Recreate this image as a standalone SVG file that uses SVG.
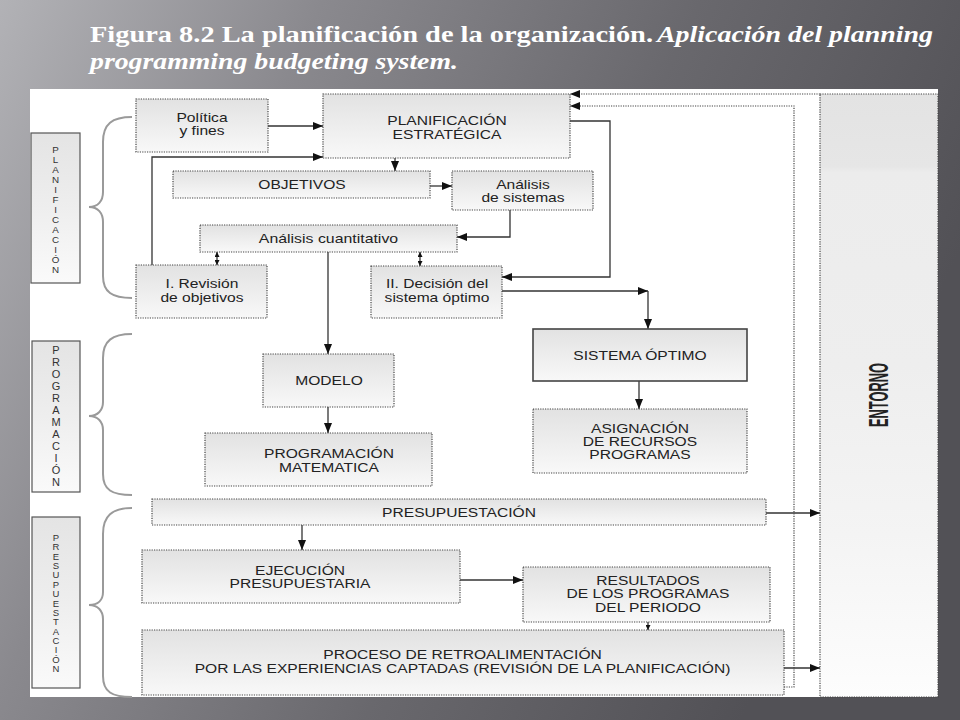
<svg xmlns="http://www.w3.org/2000/svg" width="960" height="720" viewBox="0 0 960 720">
  <defs>
    <linearGradient id="bg" x1="0" y1="0" x2="1" y2="0.35">
      <stop offset="0" stop-color="#b2b2b6"/>
      <stop offset="0.3" stop-color="#8a898e"/>
      <stop offset="0.65" stop-color="#69686d"/>
      <stop offset="1" stop-color="#525156"/>
    </linearGradient>
    <linearGradient id="boxg" x1="0" y1="0" x2="0" y2="1">
      <stop offset="0" stop-color="#e2e2e2"/>
      <stop offset="0.45" stop-color="#ececec"/>
      <stop offset="1" stop-color="#f8f8f8"/>
    </linearGradient>
    <linearGradient id="lblg" x1="0" y1="0" x2="0" y2="1">
      <stop offset="0" stop-color="#e4e4e4"/>
      <stop offset="0.5" stop-color="#eeeeee"/>
      <stop offset="1" stop-color="#fafafa"/>
    </linearGradient>
    <linearGradient id="entg" x1="0" y1="0" x2="0" y2="1">
      <stop offset="0" stop-color="#e3e3e3"/>
      <stop offset="0.12" stop-color="#e6e6e6"/>
      <stop offset="0.13" stop-color="#ececec"/>
      <stop offset="0.45" stop-color="#eeeeee"/>
      <stop offset="0.73" stop-color="#f4f4f4"/>
      <stop offset="1" stop-color="#fdfdfd"/>
    </linearGradient>
    <marker id="ah" viewBox="0 0 10 8" markerWidth="11" markerHeight="8" refX="10" refY="4" orient="auto" markerUnits="userSpaceOnUse">
      <path d="M0,0 L10,4 L0,8 Z" fill="#111"/>
    </marker>
    <marker id="sm" viewBox="0 0 6 6" markerWidth="5" markerHeight="5" refX="6" refY="3" orient="auto-start-reverse" markerUnits="userSpaceOnUse">
      <path d="M0,0 L6,3 L0,6 Z" fill="#111"/>
    </marker>
    <style>
      .box { fill: url(#boxg); stroke: #444; stroke-width: 1.2; stroke-dasharray: 1.2 1.2; }
      .sbox { fill: url(#boxg); stroke: #444; stroke-width: 1.6; }
      .lbl { fill: url(#lblg); stroke: #555; stroke-width: 1.2; }
      .t { font-family: "Liberation Sans", Arial, sans-serif; font-size: 13px; fill: #222; text-anchor: middle; }
      .v { font-family: "Liberation Sans", Arial, sans-serif; font-size: 9.8px; fill: #333; text-anchor: middle; }
      .brace { fill: none; stroke: #9a9a9a; stroke-width: 2; }
      .c { fill: none; stroke: #333; stroke-width: 1.3; }
      .d { fill: none; stroke: #444; stroke-width: 1.2; stroke-dasharray: 1.2 1.2; }
      .title { font-family: "Liberation Serif", "Times New Roman", serif; font-size: 24px; font-weight: bold; fill: #ffffff; }
    </style>
  </defs>

  <!-- background -->
  <rect x="0" y="0" width="960" height="720" fill="url(#bg)"/>
  <rect x="30" y="89" width="908" height="608" fill="#ffffff"/>

  <!-- title -->
  <g id="title">
    <text class="title" x="90" y="42" textLength="563" lengthAdjust="spacingAndGlyphs">Figura 8.2 La planificación de la organización.</text>
    <text class="title" x="657" y="42" font-style="italic" textLength="276" lengthAdjust="spacingAndGlyphs">Aplicación del planning</text>
    <text class="title" x="90" y="69" font-style="italic" textLength="368" lengthAdjust="spacingAndGlyphs">programming budgeting system.</text>
  </g>

  <!-- phase labels -->
  <g id="lbl-planificacion">
    <rect class="lbl" x="31" y="133" width="49" height="150"/>
    <text class="v"><tspan x="55.5" y="153">P</tspan><tspan x="55.5" y="163">L</tspan><tspan x="55.5" y="173">A</tspan><tspan x="55.5" y="183">N</tspan><tspan x="55.5" y="193">I</tspan><tspan x="55.5" y="203">F</tspan><tspan x="55.5" y="213">I</tspan><tspan x="55.5" y="223">C</tspan><tspan x="55.5" y="233">A</tspan><tspan x="55.5" y="243">C</tspan><tspan x="55.5" y="253">I</tspan><tspan x="55.5" y="263">Ó</tspan><tspan x="55.5" y="273">N</tspan></text>
    <path class="brace" d="M132,117 C112,117 103,124 103,142 L103,192 C103,201 98,207 89,207 C98,207 103,213 103,222 L103,276 C103,292 112,298 132,298"/>
  </g>
  <g id="lbl-programacion">
    <rect class="lbl" x="32" y="341" width="48" height="151"/>
    <text class="v" style="font-size:11px"><tspan x="56" y="354">P</tspan><tspan x="56" y="366">R</tspan><tspan x="56" y="378">O</tspan><tspan x="56" y="390">G</tspan><tspan x="56" y="402">R</tspan><tspan x="56" y="414">A</tspan><tspan x="56" y="426">M</tspan><tspan x="56" y="438">A</tspan><tspan x="56" y="450">C</tspan><tspan x="56" y="462">I</tspan><tspan x="56" y="474">Ó</tspan><tspan x="56" y="486">N</tspan></text>
    <path class="brace" d="M132,334 C112,334 103,341 103,358 L103,402 C103,410 98,416 89,416 C98,416 103,422 103,430 L103,474 C103,490 112,495 132,495"/>
  </g>
  <g id="lbl-presupuestacion">
    <rect class="lbl" x="32" y="517" width="48" height="171"/>
    <text class="v" style="font-size:9.5px"><tspan x="56" y="541">P</tspan><tspan x="56" y="550.4">R</tspan><tspan x="56" y="559.7">E</tspan><tspan x="56" y="569.1">S</tspan><tspan x="56" y="578.4">U</tspan><tspan x="56" y="587.8">P</tspan><tspan x="56" y="597.2">U</tspan><tspan x="56" y="606.5">E</tspan><tspan x="56" y="615.9">S</tspan><tspan x="56" y="625.2">T</tspan><tspan x="56" y="634.6">A</tspan><tspan x="56" y="644">C</tspan><tspan x="56" y="653.3">I</tspan><tspan x="56" y="662.7">Ó</tspan><tspan x="56" y="672">N</tspan></text>
    <path class="brace" d="M132,508 C112,508 103,516 103,534 L103,592 C103,600 98,605 89,605 C98,605 103,611 103,619 L103,676 C103,692 112,697 132,697"/>
  </g>

  <!-- ENTORNO -->
  <g id="entorno">
    <rect x="820" y="94" width="118" height="603" fill="url(#entg)" stroke="#444" stroke-width="1.2" stroke-dasharray="1.2 1.2"/>
    <text transform="translate(888,395) rotate(-90) scale(0.46,1)" font-family="Liberation Sans, Arial, sans-serif" font-size="28" font-weight="bold" fill="#222" text-anchor="middle">ENTORNO</text>
  </g>

  <!-- connectors -->
  <g id="connectors">
    <path class="c" d="M268,126 H323" marker-end="url(#ah)"/>
    <path class="c" d="M152,265 V157 H323" marker-end="url(#ah)"/>
    <path class="c" d="M395,158 V171" marker-end="url(#ah)"/>
    <path class="c" d="M430,186 H452" marker-end="url(#ah)"/>
    <path class="c" d="M510,210 V237 H457" marker-end="url(#ah)"/>
    <path class="c" d="M217,252 V265" marker-start="url(#sm)" marker-end="url(#sm)"/>
    <path class="c" d="M420,252 V266" marker-start="url(#sm)" marker-end="url(#sm)"/>
    <path class="c" d="M570,121 H610 V277 H502" marker-end="url(#ah)"/>
    <path class="c" d="M502,291 H648" marker-end="url(#ah)"/>
    <path class="c" d="M648,291 V329" marker-end="url(#ah)"/>
    <path class="c" d="M328,252 V354" marker-end="url(#ah)"/>
    <path class="c" d="M328,407 V433" marker-end="url(#ah)"/>
    <path class="c" d="M639,381 V409" marker-end="url(#ah)"/>
    <path class="c" d="M302,525 V550" marker-end="url(#ah)"/>
    <path class="c" d="M460,580 H523" marker-end="url(#ah)"/>
    <path class="c" d="M648,622 V630" marker-end="url(#sm)"/>
    <path class="c" d="M766,513 H820" marker-end="url(#ah)"/>
    <path class="c" d="M784,668 H820" marker-end="url(#ah)"/>
    <path class="d" d="M820,94 H570" marker-end="url(#ah)"/>
    <path class="d" d="M784,687 H794 V106 H570" marker-end="url(#ah)"/>
  </g>

  <!-- nodes -->
  <g id="politica">
    <rect class="box" x="136" y="99" width="132" height="53"/>
    <text class="t" transform="translate(202,122) scale(1.2,1)"><tspan x="0" y="0">Política</tspan><tspan x="0" y="13">y fines</tspan></text>
  </g>
  <g id="planificacion-estrategica">
    <rect class="box" x="323" y="94" width="247" height="64"/>
    <text class="t" transform="translate(447,125) scale(1.2,1)"><tspan x="0" y="0">PLANIFICACIÓN</tspan><tspan x="0" y="14">ESTRATÉGICA</tspan></text>
  </g>
  <g id="objetivos">
    <rect class="box" x="173" y="171" width="257" height="27"/>
    <text class="t" transform="translate(302,189) scale(1.2,1)">OBJETIVOS</text>
  </g>
  <g id="analisis-sistemas">
    <rect class="box" x="452" y="171" width="141" height="39"/>
    <text class="t" transform="translate(523,189) scale(1.2,1)"><tspan x="0" y="0">Análisis</tspan><tspan x="0" y="13">de sistemas</tspan></text>
  </g>
  <g id="analisis-cuantitativo">
    <rect class="box" x="200" y="225" width="257" height="27"/>
    <text class="t" transform="translate(328.5,243) scale(1.22,1)">Análisis cuantitativo</text>
  </g>
  <g id="revision-objetivos">
    <rect class="box" x="136" y="265" width="131" height="53"/>
    <text class="t" transform="translate(202,288) scale(1.2,1)"><tspan x="0" y="0">I. Revisión</tspan><tspan x="0" y="14">de objetivos</tspan></text>
  </g>
  <g id="decision-sistema">
    <rect class="box" x="371" y="266" width="131" height="52"/>
    <text class="t" transform="translate(437,288) scale(1.2,1)"><tspan x="0" y="0">II. Decisión del</tspan><tspan x="0" y="14">sistema óptimo</tspan></text>
  </g>
  <g id="modelo">
    <rect class="box" x="263" y="354" width="131" height="53"/>
    <text class="t" transform="translate(329,385) scale(1.2,1)">MODELO</text>
  </g>
  <g id="programacion-matematica">
    <rect class="box" x="205" y="433" width="227" height="53"/>
    <text class="t" transform="translate(329,458) scale(1.2,1)"><tspan x="0" y="0">PROGRAMACIÓN</tspan><tspan x="0" y="14">MATEMATICA</tspan></text>
  </g>
  <g id="sistema-optimo">
    <rect class="sbox" x="533" y="329" width="214" height="52"/>
    <text class="t" transform="translate(640,360) scale(1.2,1)">SISTEMA ÓPTIMO</text>
  </g>
  <g id="asignacion">
    <rect class="box" x="533" y="409" width="214" height="64"/>
    <text class="t" transform="translate(640,433) scale(1.2,1)"><tspan x="0" y="0">ASIGNACIÓN</tspan><tspan x="0" y="13.5">DE RECURSOS</tspan><tspan x="0" y="26.5">PROGRAMAS</tspan></text>
  </g>
  <g id="presupuestacion">
    <rect class="box" x="152" y="499" width="614" height="26"/>
    <text class="t" transform="translate(459,517) scale(1.2,1)">PRESUPUESTACIÓN</text>
  </g>
  <g id="ejecucion">
    <rect class="box" x="142" y="550" width="318" height="53"/>
    <text class="t" transform="translate(300,575) scale(1.2,1)"><tspan x="0" y="0">EJECUCIÓN</tspan><tspan x="0" y="13.5">PRESUPUESTARIA</tspan></text>
  </g>
  <g id="resultados">
    <rect class="box" x="523" y="567" width="247" height="55"/>
    <text class="t" transform="translate(648,585) scale(1.2,1)"><tspan x="0" y="0">RESULTADOS</tspan><tspan x="0" y="13.5">DE LOS PROGRAMAS</tspan><tspan x="0" y="27">DEL PERIODO</tspan></text>
  </g>
  <g id="proceso">
    <rect class="box" x="142" y="630" width="642" height="65"/>
    <text class="t" transform="translate(462.5,659) scale(1.2,1)"><tspan x="0" y="0">PROCESO DE RETROALIMENTACIÓN</tspan><tspan x="0" y="14">POR LAS EXPERIENCIAS CAPTADAS (REVISIÓN DE LA PLANIFICACIÓN)</tspan></text>
  </g>
</svg>
